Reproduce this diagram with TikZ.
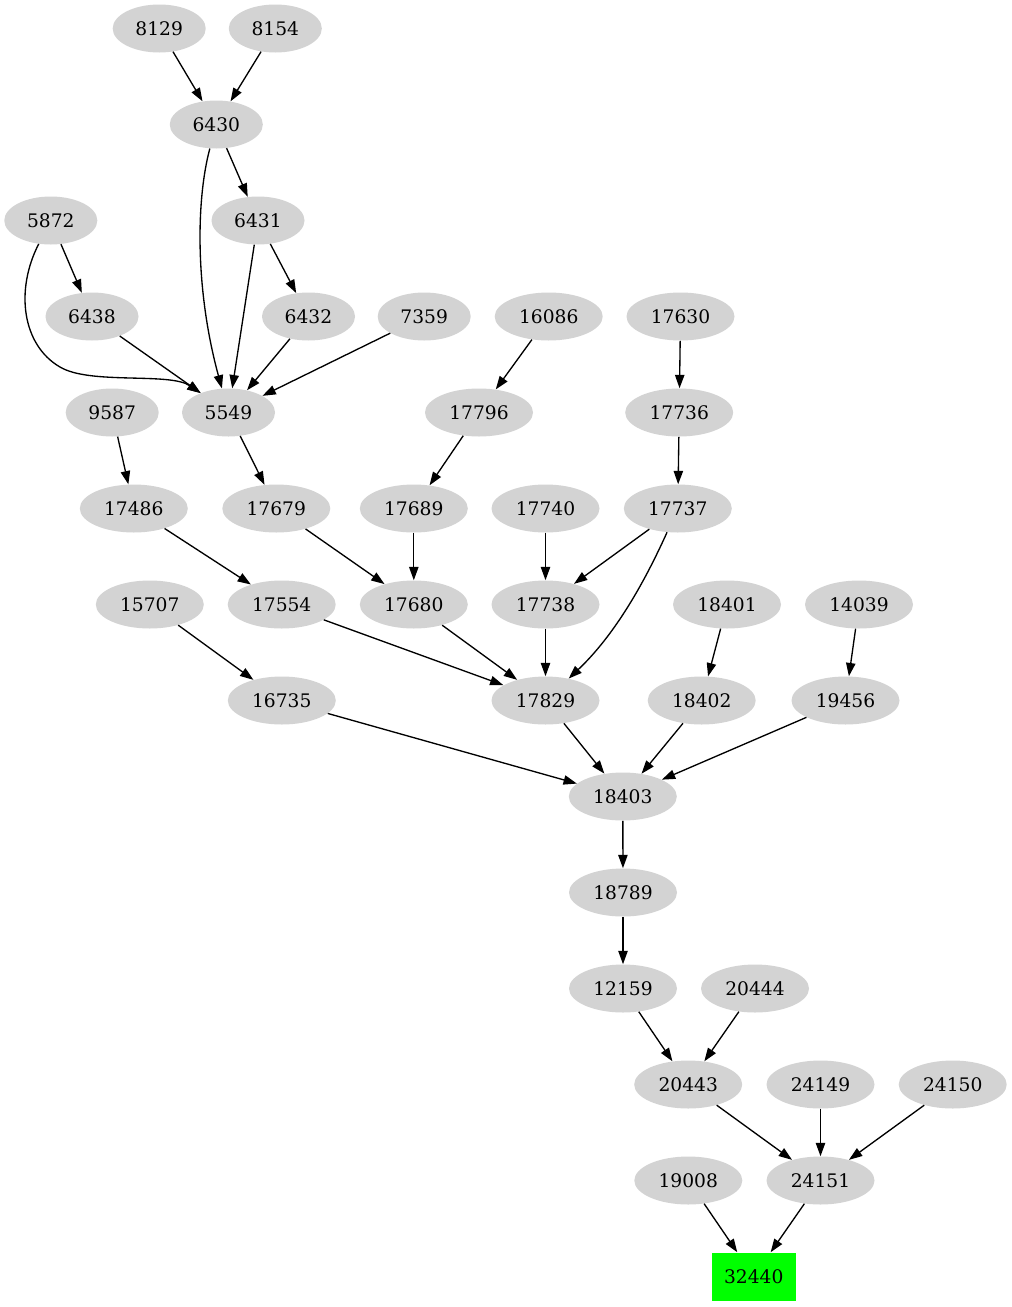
\documentclass[tikz,border=0pt]{standalone}
\usepackage{fontspec}
\setmainfont{DejaVu Serif}
\usetikzlibrary{shapes.geometric,arrows.meta}
\definecolor{nodegray}{RGB}{211,211,211}
\definecolor{boxgreen}{RGB}{0,255,0}
\tikzset{
  gnode/.style={ellipse, fill=nodegray, draw=none, inner sep=0pt, minimum height=36pt,
    font=\fontsize{14pt}{16pt}\selectfont},
  ellfour/.style={gnode, minimum width=69.75pt},
  ellfive/.style={gnode, minimum width=81pt},
  greenbox/.style={rectangle, fill=boxgreen, draw=none, inner sep=0pt, minimum width=63pt,
    minimum height=36pt, font=\fontsize{14pt}{16pt}\selectfont},
  edge/.style={draw=black, line width=1pt, -{Triangle[length=10pt,width=7pt]}}
}
\begin{document}
\begin{tikzpicture}[x=0.75pt,y=-0.75pt]
\useasboundingbox (0,0) rectangle (1012,1307);
% rank 0
\node[ellfour] (n8129) at (159.2,28.5) {8129};
\node[ellfour] (n8154) at (275.3,28.5) {8154};
% rank 1
\node[ellfour] (n6430) at (216.3,124.5) {6430};
% rank 2
\node[ellfour] (n5872) at (50.8,220.5) {5872};
\node[ellfour] (n6431) at (258,220.5) {6431};
% rank 3
\node[ellfour] (n6438) at (92,316.5) {6438};
\node[ellfour] (n6432) at (308.5,316.5) {6432};
\node[ellfour] (n7359) at (424.2,316.5) {7359};
\node[ellfive] (n16086) at (548.7,316.5) {16086};
\node[ellfive] (n17630) at (680.5,316.5) {17630};
% rank 4
\node[ellfour] (n9587) at (112.2,412.5) {9587};
\node[ellfour] (n5549) at (228.5,412.5) {5549};
\node[ellfive] (n17796) at (479,412.5) {17796};
\node[ellfive] (n17736) at (679.2,412.5) {17736};
% rank 5
\node[ellfive] (n17486) at (133.8,508.5) {17486};
\node[ellfive] (n17679) at (276.3,508.5) {17679};
\node[ellfive] (n17689) at (413.8,508.5) {17689};
\node[ellfive] (n17740) at (545.5,508.5) {17740};
\node[ellfive] (n17737) at (677.8,508.5) {17737};
% rank 6
\node[ellfive] (n15707) at (149.8,604.5) {15707};
\node[ellfive] (n17554) at (281.7,604.5) {17554};
\node[ellfive] (n17680) at (413.8,604.5) {17680};
\node[ellfive] (n17738) at (545.5,604.5) {17738};
\node[ellfive] (n18401) at (727,604.5) {18401};
\node[ellfive] (n14039) at (859,604.5) {14039};
% rank 7
\node[ellfive] (n16735) at (281.8,700.5) {16735};
\node[ellfive] (n17829) at (545.5,700.5) {17829};
\node[ellfive] (n18402) at (701.7,700.5) {18402};
\node[ellfive] (n19456) at (845.5,700.5) {19456};
% rank 8
\node[ellfive] (n18403) at (622.8,796.5) {18403};
% rank 9
\node[ellfive] (n18789) at (623,892.5) {18789};
% rank 10
\node[ellfive] (n12159) at (623,988.5) {12159};
\node[ellfive] (n20444) at (755,988.5) {20444};
% rank 11
\node[ellfive] (n20443) at (688.2,1084.5) {20443};
\node[ellfive] (n24149) at (820.5,1084.5) {24149};
\node[ellfive] (n24150) at (952.7,1084.5) {24150};
% rank 12
\node[ellfive] (n19008) at (688.3,1180.5) {19008};
\node[ellfive] (n24151) at (820.5,1180.5) {24151};
% rank 13
\node[greenbox] (n32440) at (753.8,1276.5) {32440};

% edges
\draw[edge] (n8129) -- (n6430);
\draw[edge] (n8154) -- (n6430);
\draw[edge] (n6430) -- (n6431);
\draw[edge] (n6430) .. controls (196,200) and (195,290) .. (n5549);
\draw[edge] (n5872) -- (n6438);
\draw[edge] (n5872) .. controls (15,290) and (22,345) .. (60,367) .. controls (90,385) and (170,372) .. (n5549);
\draw[edge] (n6431) -- (n5549);
\draw[edge] (n6431) -- (n6432);
\draw[edge] (n6438) -- (n5549);
\draw[edge] (n6432) -- (n5549);
\draw[edge] (n7359) -- (n5549);
\draw[edge] (n16086) -- (n17796);
\draw[edge] (n17630) -- (n17736);
\draw[edge] (n9587) -- (n17486);
\draw[edge] (n5549) -- (n17679);
\draw[edge] (n17796) -- (n17689);
\draw[edge] (n17736) -- (n17737);
\draw[edge] (n17486) -- (n17554);
\draw[edge] (n17679) -- (n17680);
\draw[edge] (n17689) -- (n17680);
\draw[edge] (n17740) -- (n17738);
\draw[edge] (n17737) -- (n17738);
\draw[edge] (n17737) .. controls (650,570) and (620,630) .. (n17829);
\draw[edge] (n15707) -- (n16735);
\draw[edge] (n17554) -- (n17829);
\draw[edge] (n17680) -- (n17829);
\draw[edge] (n17738) -- (n17829);
\draw[edge] (n18401) -- (n18402);
\draw[edge] (n14039) -- (n19456);
\draw[edge] (n16735) -- (n18403);
\draw[edge] (n17829) -- (n18403);
\draw[edge] (n18402) -- (n18403);
\draw[edge] (n19456) -- (n18403);
\draw[edge] (n18403) -- (n18789);
\draw[edge] (n18789) -- (n12159);
\draw[edge] (n12159) -- (n20443);
\draw[edge] (n20444) -- (n20443);
\draw[edge] (n20443) -- (n24151);
\draw[edge] (n24149) -- (n24151);
\draw[edge] (n24150) -- (n24151);
\draw[edge] (n19008) -- (n32440);
\draw[edge] (n24151) -- (n32440);
\end{tikzpicture}
\end{document}
